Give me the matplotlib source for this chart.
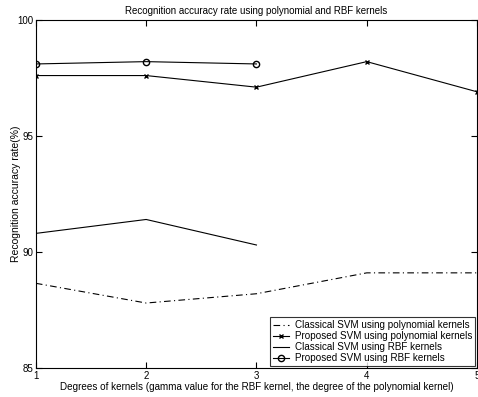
import numpy as np
import matplotlib.pyplot as plt

plt.rcParams['font.family'] = ['Liberation Sans', 'DejaVu Sans']

# Datos
grados = [1, 2, 3, 4, 5]
grados_rbf = [1, 2, 3]
svm_clasico_poli = [88.65, 87.8, 88.2, 89.1, 89.1]
svm_propuesto_poli = [97.6, 97.6, 97.1, 98.2, 96.9]
svm_clasico_rbf = [90.8, 91.4, 90.3]
svm_propuesto_rbf = [98.1, 98.2, 98.1]

fig = plt.figure(figsize=(4.78, 3.97), dpi=100)
ax = fig.add_axes([0.075, 0.073, 0.923, 0.877])

ax.plot(grados, svm_clasico_poli, color='black', linestyle=(0, (6, 3, 1, 3)), lw=0.8,
        label='Classical SVM using polynomial kernels')
ax.plot(grados, svm_propuesto_poli, color='black', marker='x', markersize=3.5, lw=0.8,
        label='Proposed SVM using polynomial kernels')
ax.plot(grados_rbf, svm_clasico_rbf, color='black', lw=0.8,
        label='Classical SVM using RBF kernels')
ax.plot(grados_rbf, svm_propuesto_rbf, color='black', marker='o', markersize=4.5,
        markerfacecolor='none', lw=0.8, label='Proposed SVM using RBF kernels')

ax.set_xlim(1, 5)
ax.set_ylim(85, 100)
ax.set_xticks(grados)
ax.set_yticks([85, 90, 95, 100])
ax.tick_params(direction='in', top=True, right=True, labelsize=7, length=4, pad=2)
for s in ax.spines.values():
    s.set_linewidth(0.8)

ax.set_xlabel('Degrees of kernels (gamma value for the RBF kernel, the degree of the polynomial kernel)',
              fontsize=7.1, labelpad=1)
ax.set_ylabel('Recognition accuracy rate(%)', fontsize=7.5, labelpad=-3)
ax.set_title('Recognition accuracy rate using polynomial and RBF kernels', fontsize=7, pad=4)

leg = ax.legend(loc='lower right', fontsize=7.1, frameon=True, fancybox=False,
                edgecolor='black', handlelength=1.6, borderpad=0.3, labelspacing=0.1,
                handletextpad=0.6, borderaxespad=0.2)
leg.get_frame().set_linewidth(0.8)

fig.savefig('out.png', dpi=100)
